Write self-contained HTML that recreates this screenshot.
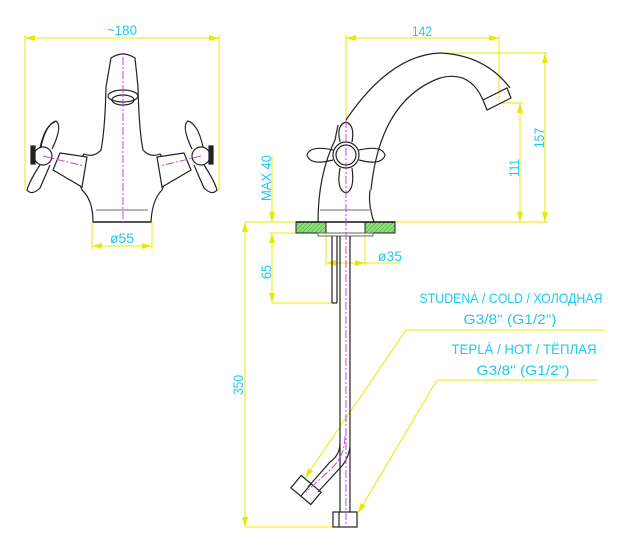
<!DOCTYPE html>
<html><head><meta charset="utf-8"><style>
html,body{margin:0;padding:0;background:#fff}
svg{display:block}
text{font-family:"Liberation Sans","DejaVu Sans",sans-serif;fill:#1ec8f0;font-size:14px}
</style></head><body>
<svg width="643" height="549" viewBox="0 0 643 549" xmlns="http://www.w3.org/2000/svg">
<defs>
<pattern id="h" width="3" height="3" patternUnits="userSpaceOnUse" patternTransform="rotate(45)">
<rect width="3" height="3" fill="#8fe07a"/><line x1="0" y1="0" x2="0" y2="3" stroke="#3a9a2a" stroke-width="1"/></pattern>
<marker id="a" markerWidth="10" markerHeight="6" refX="10" refY="3" orient="auto-start-reverse" markerUnits="userSpaceOnUse"><path d="M0,0 L10,3 L0,6z" fill="#e8e800"/></marker>
</defs>
<g stroke="#e8e800" stroke-width="1" fill="none">
<line x1="25" y1="38" x2="219" y2="38" marker-start="url(#a)" marker-end="url(#a)"/>
<line x1="25" y1="35" x2="25" y2="190"/><line x1="219" y1="35" x2="219" y2="190"/>
<line x1="92" y1="246" x2="152" y2="246" marker-start="url(#a)" marker-end="url(#a)"/>
<line x1="92" y1="222" x2="92" y2="249"/><line x1="152" y1="222" x2="152" y2="249"/>
<line x1="346" y1="38" x2="499" y2="38" marker-start="url(#a)" marker-end="url(#a)"/>
<line x1="346" y1="35" x2="346" y2="120"/><line x1="499" y1="35" x2="499" y2="100"/>
<line x1="440" y1="53" x2="548" y2="53"/>
<line x1="545" y1="53" x2="545" y2="222" marker-start="url(#a)" marker-end="url(#a)"/>
<line x1="499" y1="103" x2="523" y2="103"/>
<line x1="520" y1="103" x2="520" y2="222" marker-start="url(#a)" marker-end="url(#a)"/>
<line x1="245" y1="222" x2="548" y2="222"/>
<line x1="272" y1="155" x2="272" y2="222" marker-end="url(#a)"/>
<line x1="270" y1="233" x2="296" y2="233"/>
<line x1="272" y1="233" x2="272" y2="303" marker-start="url(#a)" marker-end="url(#a)"/>
<line x1="272" y1="303" x2="332" y2="303"/>
<line x1="326" y1="233" x2="326" y2="266"/><line x1="365" y1="233" x2="365" y2="266"/>
<line x1="326" y1="263" x2="365" y2="263" marker-start="url(#a)" marker-end="url(#a)"/>
<line x1="365" y1="263" x2="400" y2="263"/>
<line x1="245" y1="222" x2="245" y2="527" marker-start="url(#a)" marker-end="url(#a)"/>
<line x1="245" y1="527" x2="333" y2="527"/>
<polyline points="605,330 406,330 305,478" marker-end="url(#a)"/>
<polyline points="598,380 437,380 358,513" marker-end="url(#a)"/>
</g>
<rect x="296" y="222" width="30" height="11" fill="url(#h)" stroke="#222"/>
<rect x="365" y="222" width="30" height="11" fill="url(#h)" stroke="#222"/>
<line x1="296" y1="222" x2="395" y2="222" stroke="#111" stroke-width="1.5"/>
<rect x="318" y="233" width="55" height="3" fill="none" stroke="#666"/>
<g stroke="#222" stroke-width="1.2" fill="none">
<path d="M111,58 Q123,50 135,58 L138,87 Q139,130 143,150 Q150,158 160,154 L170,168 L162,190 Q152,200 151,222 L93,222 Q93,200 82,190 L74,168 L84,154 Q94,158 101,150 Q105,130 106,87 Z"/>
<ellipse cx="123" cy="96" rx="15" ry="6"/><ellipse cx="123" cy="100" rx="11" ry="5"/>
<line x1="96" y1="210" x2="148" y2="210" stroke="#888"/>
<line x1="93" y1="222" x2="151" y2="222" stroke="#555" stroke-width="2"/>
<path d="M60,153 L87,157 L82,187 L53,170 Z" fill="#fff"/>
<path d="M184,153 L157,157 L162,187 L191,170 Z" fill="#fff"/>
<circle cx="43" cy="156" r="9" fill="#fff"/><circle cx="201" cy="156" r="9" fill="#fff"/>
<path d="M40,148 Q45,125 55,122 Q62127 52,150"/>
<path d="M41,147 Q46,124 56,121 Q63,126 52,149"/><path d="M40,165 Q30,180 27,190 Q32,196 40,188 L50,165"/>
<path d="M203,147 Q198,124 188,121 Q181,126 192,149"/><path d="M204,165 Q214,180 217,190 Q212,196 204,188 L194,165"/>
<rect x="31" y="146" width="4" height="18" fill="#222"/><rect x="209" y="146" width="4" height="18" fill="#222"/>
<path d="M346,120 Q390,55 440,53 Q485,55 510,88"/>
<path d="M371,190 Q380,100 440,78 Q470,70 483,100"/>
<path d="M483,100 L487,110 L511,98 L507,88 Z"/>
<path d="M318,222 Q318,175 335,140 L338,125"/>
<path d="M374,222 Q368,205 370,190"/>
<line x1="320" y1="210" x2="372" y2="210" stroke="#888"/>
<circle cx="346" cy="155" r="13"/><circle cx="346" cy="155" r="10"/>
<path d="M340,142 Q336,125 346,122 Q355,125 352,142"/>
<path d="M340,168 Q336,190 346,193 Q355,190 352,168"/>
<path d="M333,150 Q310,145 307,155 Q310,166 333,160"/>
<path d="M359,150 Q382,145 385,155 Q382,166 359,160"/>
<line x1="332" y1="236" x2="332" y2="303"/><line x1="337" y1="236" x2="337" y2="303"/>
<line x1="332" y1="303" x2="337" y2="303"/>
<path d="M340,236 L340,443 Q340,455 330,462 L308,487"/>
<path d="M350,236 L350,447 Q348,460 340,468 L318,492"/>
<line x1="340" y1="443" x2="340" y2="512"/><line x1="350" y1="447" x2="350" y2="512"/>
<rect x="333" y="512" width="24" height="15"/>
<line x1="339" y1="512" x2="339" y2="527"/>
<g transform="translate(306,490) rotate(40)"><rect x="-13" y="-8" width="26" height="16"/><line x1="0" y1="-8" x2="0" y2="8"/></g>
</g>
<g stroke="#d040d0" stroke-width="1" stroke-dasharray="8,2,2,2" fill="none">
<line x1="123" y1="57" x2="123" y2="222"/>
<line x1="43" y1="156" x2="84" y2="166"/><line x1="201" y1="156" x2="160" y2="166"/>
<line x1="346" y1="120" x2="346" y2="527"/>
<path d="M345,436 Q345,455 332,468 L306,492"/>
</g>
<text x="122" y="35" text-anchor="middle" textLength="30" lengthAdjust="spacingAndGlyphs">~180</text>
<text x="122" y="243" text-anchor="middle" textLength="24" lengthAdjust="spacingAndGlyphs">ø55</text>
<text x="422" y="36" text-anchor="middle" textLength="20" lengthAdjust="spacingAndGlyphs">142</text>
<text x="390" y="261" text-anchor="middle" textLength="24" lengthAdjust="spacingAndGlyphs">ø35</text>
<text transform="translate(544,138) rotate(-90)" text-anchor="middle" textLength="20" lengthAdjust="spacingAndGlyphs">157</text>
<text transform="translate(519,168) rotate(-90)" text-anchor="middle" textLength="18" lengthAdjust="spacingAndGlyphs">111</text>
<text transform="translate(271,178) rotate(-90)" text-anchor="middle" textLength="46" lengthAdjust="spacingAndGlyphs">MAX 40</text>
<text transform="translate(271,272) rotate(-90)" text-anchor="middle" textLength="14" lengthAdjust="spacingAndGlyphs">65</text>
<text transform="translate(243,385) rotate(-90)" text-anchor="middle" textLength="20" lengthAdjust="spacingAndGlyphs">350</text>
<text x="511" y="303" text-anchor="middle" textLength="183" lengthAdjust="spacingAndGlyphs">STUDENÁ / COLD / ХОЛОДНАЯ</text>
<text x="510" y="324" text-anchor="middle" textLength="93" lengthAdjust="spacingAndGlyphs">G3/8" (G1/2")</text>
<text x="524" y="354" text-anchor="middle" textLength="145" lengthAdjust="spacingAndGlyphs">TEPLÁ / HOT / ТЁПЛАЯ</text>
<text x="523" y="375" text-anchor="middle" textLength="93" lengthAdjust="spacingAndGlyphs">G3/8" (G1/2")</text>
</svg>
</body></html>
